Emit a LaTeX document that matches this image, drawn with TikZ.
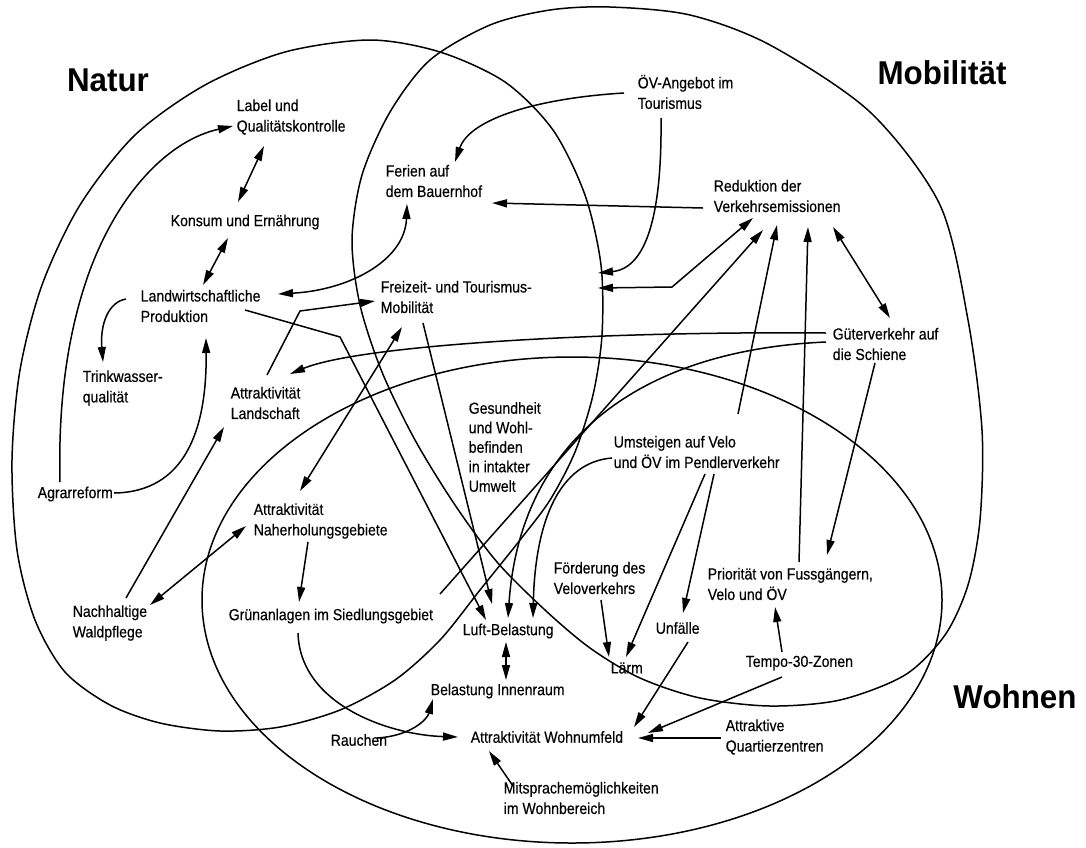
\documentclass[tikz,border=0pt]{standalone}
\usepackage{fontspec}
\setmainfont{Liberation Sans}[FakeStretch=0.88,FakeBold=0.35]
\newfontfamily\headfont{Liberation Sans}[FakeStretch=0.95]
\usetikzlibrary{arrows.meta}

\begin{document}
\begin{tikzpicture}[x=1pt,y=-1pt,line width=1.5pt,
  lbl/.style={anchor=west,inner sep=0pt,align=left,font=\fontsize{16}{20.5}\selectfont},
  head/.style={inner sep=0pt,font=\headfont\bfseries\fontsize{33}{36}\selectfont},
  setline/.style={line width=1.5pt},
  ar/.style={-{Triangle[length=15pt,width=8pt]}},
  dar/.style={{Triangle[length=15pt,width=8pt]}-{Triangle[length=15pt,width=8pt]}}]

\useasboundingbox (0,0) rectangle (1086,847);
\fill[white] (0,0) rectangle (1086,847);

% ---------- the three fields ----------
% Natur
\draw[setline] plot[smooth cycle] coordinates {
  (370,40) (440,52) (505,82) (553,130) (585,195) (601,265) (602,335)
  (593,395) (575,452) (550,500) (520,540) (480,590) (440,640) (395,680)
  (340,710) (280,727) (220,731) (160,723) (110,705) (65,672) (35,620)
  (17,550) (12,460) (20,370) (42,285) (80,205) (135,135) (205,85) (285,52)};
% Mobilitaet
\draw[setline] plot[smooth cycle] coordinates {
  (610,7) (690,15) (770,45) (870,112) (940,205) (968,320) (982,430)
  (980,520) (968,585) (945,635) (905,675) (840,700) (770,706) (700,698)
  (640,678) (590,648) (545,610) (497,562) (455,505) (415,440) (382,372)
  (360,305) (352,240) (362,175) (390,112) (430,60) (490,25) (550,10)};
% Wohnen
\draw[setline] (572,600) ellipse [x radius=370pt, y radius=243pt];

% ---------- headings ----------
\node[head] (hnatur) at (108,80) {Natur};
\node[head] (hmobil) at (942,73) {Mobilität};
\node[head] (hwohnen) at (1015,697) {Wohnen};

% ---------- factors ----------
\node[lbl] (oev) at (637,92) {ÖV-Angebot im\\Tourismus};
\node[lbl] (label) at (236,117) {Label und\\Qualitätskontrolle};
\node[lbl] (ferien) at (385,181) {Ferien auf\\dem Bauernhof};
\node[lbl] (redukt) at (713,196) {Reduktion der\\Verkehrsemissionen};
\node[lbl] (konsum) at (170,222) {Konsum und Ernährung};
\node[lbl] (landw) at (140,306) {Landwirtschaftliche\\Produktion};
\node[lbl] (freizeit) at (380,297) {Freizeit- und Tourismus-\\Mobilität};
\node[lbl] (gueter) at (832,344) {Güterverkehr auf\\die Schiene};
\node[lbl] (trink) at (82,388) {Trinkwasser-\\qualität};
\node[lbl] (landsch) at (230,403) {Attraktivität\\Landschaft};
\node[lbl,font=\fontsize{16}{19.5}\selectfont] (gesund) at (468,447)
  {Gesundheit\\und Wohl-\\befinden\\in intakter\\Umwelt};
\node[lbl] (umst) at (613,452) {Umsteigen auf Velo\\und ÖV im Pendlerverkehr};
\node[lbl] (agrar) at (37,494) {Agrarreform};
\node[lbl] (naherh) at (253,521) {Attraktivität\\Naherholungsgebiete};
\node[lbl] (foerd) at (553,578) {Förderung des\\Veloverkehrs};
\node[lbl] (prio) at (707,584) {Priorität von Fussgängern,\\Velo und ÖV};
\node[lbl] (wald) at (72,623) {Nachhaltige\\Waldpflege};
\node[lbl] (gruen) at (228,616) {Grünanlagen im Siedlungsgebiet};
\node[lbl] (luft) at (462,631) {Luft-Belastung};
\node[lbl] (unf) at (655,628) {Unfälle};
\node[lbl] (tempo) at (745,663) {Tempo-30-Zonen};
\node[lbl] (laerm) at (610,668) {Lärm};
\node[lbl] (innen) at (430,691) {Belastung Innenraum};
\node[lbl] (rauch) at (330,740) {Rauchen};
\node[lbl] (wohnumf) at (470,737) {Attraktivität Wohnumfeld};
\node[lbl] (quart) at (725,737) {Attraktive\\Quartierzentren};
\node[lbl] (mitspr) at (503,798) {Mitsprachemöglichkeiten\\im Wohnbereich};

% ---------- connector ends ----------
\coordinate (agrar-up) at (60,482);
\coordinate (agrar-r) at (114,493);
\coordinate (label-in) at (233,126);
\coordinate (label-s) at (264,146);
\coordinate (konsum-n) at (238,202);
\coordinate (konsum-s) at (228,238);
\coordinate (landw-n) at (203,285);
\coordinate (landw-l) at (126,299);
\coordinate (landw-r) at (278,294);
\coordinate (landw-e) at (245,310);
\coordinate (landw-s) at (206,338);
\coordinate (trink-n) at (103,362);
\coordinate (ferien-s) at (407,204);
\coordinate (ferien-n) at (455,162);
\coordinate (ferien-e) at (492,203);
\coordinate (oev-w) at (624,93);
\coordinate (oev-s) at (661,118);
\coordinate (freizeit-e1) at (598,273);
\coordinate (freizeit-e2) at (598,288);
\coordinate (freizeit-w) at (375,301);
\coordinate (freizeit-s) at (423,323);
\coordinate (freizeit-sw) at (402,327);
\coordinate (redukt-w) at (703,208);
\coordinate (redukt-s1) at (753,218);
\coordinate (redukt-s2) at (763,230);
\coordinate (redukt-s3) at (777,225);
\coordinate (redukt-s4) at (808,227);
\coordinate (redukt-s5) at (833,227);
\coordinate (gueter-n) at (890,318);
\coordinate (gueter-w1) at (826,333);
\coordinate (gueter-w2) at (826,342);
\coordinate (gueter-s) at (875,363);
\coordinate (landsch-n) at (290,374);
\coordinate (landsch-ne) at (267,375);
\coordinate (landsch-sw) at (224,427);
\coordinate (umst-w) at (612,458);
\coordinate (umst-n) at (738,414);
\coordinate (umst-s1) at (705,474);
\coordinate (umst-s2) at (714,474);
\coordinate (naherh-n) at (300,491);
\coordinate (naherh-w) at (246,526);
\coordinate (naherh-s) at (308,542);
\coordinate (prio-n) at (827,555);
\coordinate (prio-ne) at (799,562);
\coordinate (prio-s) at (775,607);
\coordinate (wald-n) at (126,598);
\coordinate (wald-ne) at (150,605);
\coordinate (gruen-n) at (299,602);
\coordinate (gruen-e) at (440,594);
\coordinate (gruen-s) at (298,633);
\coordinate (foerd-s) at (601,600);
\coordinate (luft-n1) at (486,620);
\coordinate (luft-n2) at (492,604);
\coordinate (luft-n3) at (508,618);
\coordinate (luft-n4) at (533,618);
\coordinate (luft-s) at (506,642);
\coordinate (innen-n) at (506,680);
\coordinate (innen-sw) at (433,699);
\coordinate (laerm-n1) at (609,657);
\coordinate (laerm-n2) at (626,657);
\coordinate (unf-n) at (683,613);
\coordinate (unf-s) at (688,642);
\coordinate (tempo-n) at (782,652);
\coordinate (tempo-sw) at (782,677);
\coordinate (rauch-e) at (377,738);
\coordinate (wohnumf-w) at (458,737);
\coordinate (wohnumf-ne) at (634,727);
\coordinate (wohnumf-e1) at (648,733);
\coordinate (wohnumf-e2) at (638,738);
\coordinate (wohnumf-s) at (489,751);
\coordinate (quart-w) at (721,738);
\coordinate (mitspr-n) at (513,786);

% ---------- Natur ----------
\draw[ar] (agrar-up) .. controls (58,400) and (68,330) .. (90,270)
  .. controls (120,190) and (170,140) .. (label-in);
\draw[ar] (agrar-r) .. controls (185,492) and (207,430) .. (landw-s);
\draw[ar] (landw-l) .. controls (108,302) and (100,325) .. (trink-n);
\draw[dar] (label-s) -- (konsum-n);
\draw[dar] (konsum-s) -- (landw-n);
\draw[dar] (ferien-s) .. controls (405,260) and (350,290) .. (landw-r);
\draw[ar] (landw-e) -- (340,337) -- (luft-n1);
\draw[ar] (landsch-ne) -- (300,311) -- (freizeit-w);
\draw[dar] (wald-ne) -- (naherh-w);
\draw[ar] (wald-n) -- (landsch-sw);
\draw[ar] (naherh-s) -- (gruen-n);
\draw[dar] (freizeit-sw) -- (naherh-n);

% ---------- Mobilitaet ----------
\draw[ar] (oev-w) .. controls (540,98) and (470,118) .. (ferien-n);
\draw[ar] (oev-s) .. controls (662,210) and (648,268) .. (freizeit-e1);
\draw[dar] (redukt-s1) -- (672,287) -- (freizeit-e2);
\draw[ar] (redukt-w) -- (ferien-e);
\draw[ar] (freizeit-s) -- (luft-n2);
\draw[ar] (gueter-w1) .. controls (600,331) and (360,345) .. (landsch-n);
\draw[ar] (gueter-w2) .. controls (640,350) and (520,440) .. (luft-n3);
\draw[ar] (umst-w) .. controls (560,462) and (535,520) .. (luft-n4);
\draw[ar] (gruen-e) -- (redukt-s2);
\draw[ar] (umst-n) -- (redukt-s3);
\draw[ar] (prio-ne) -- (redukt-s4);
\draw[dar] (redukt-s5) -- (gueter-n);
\draw[ar] (gueter-s) -- (prio-n);
\draw[ar] (tempo-n) -- (prio-s);

% ---------- Wohnen ----------
\draw[ar] (gruen-s) .. controls (300,705) and (390,735) .. (wohnumf-w);
\draw[dar] (luft-s) -- (innen-n);
\draw[ar] (rauch-e) .. controls (410,736) and (427,720) .. (innen-sw);
\draw[ar] (foerd-s) -- (laerm-n1);
\draw[ar] (umst-s1) -- (laerm-n2);
\draw[ar] (umst-s2) -- (unf-n);
\draw[ar] (unf-s) -- (wohnumf-ne);
\draw[ar] (tempo-sw) -- (wohnumf-e1);
\draw[ar] (quart-w) -- (wohnumf-e2);
\draw[ar] (mitspr-n) -- (wohnumf-s);

\end{tikzpicture}
\end{document}
